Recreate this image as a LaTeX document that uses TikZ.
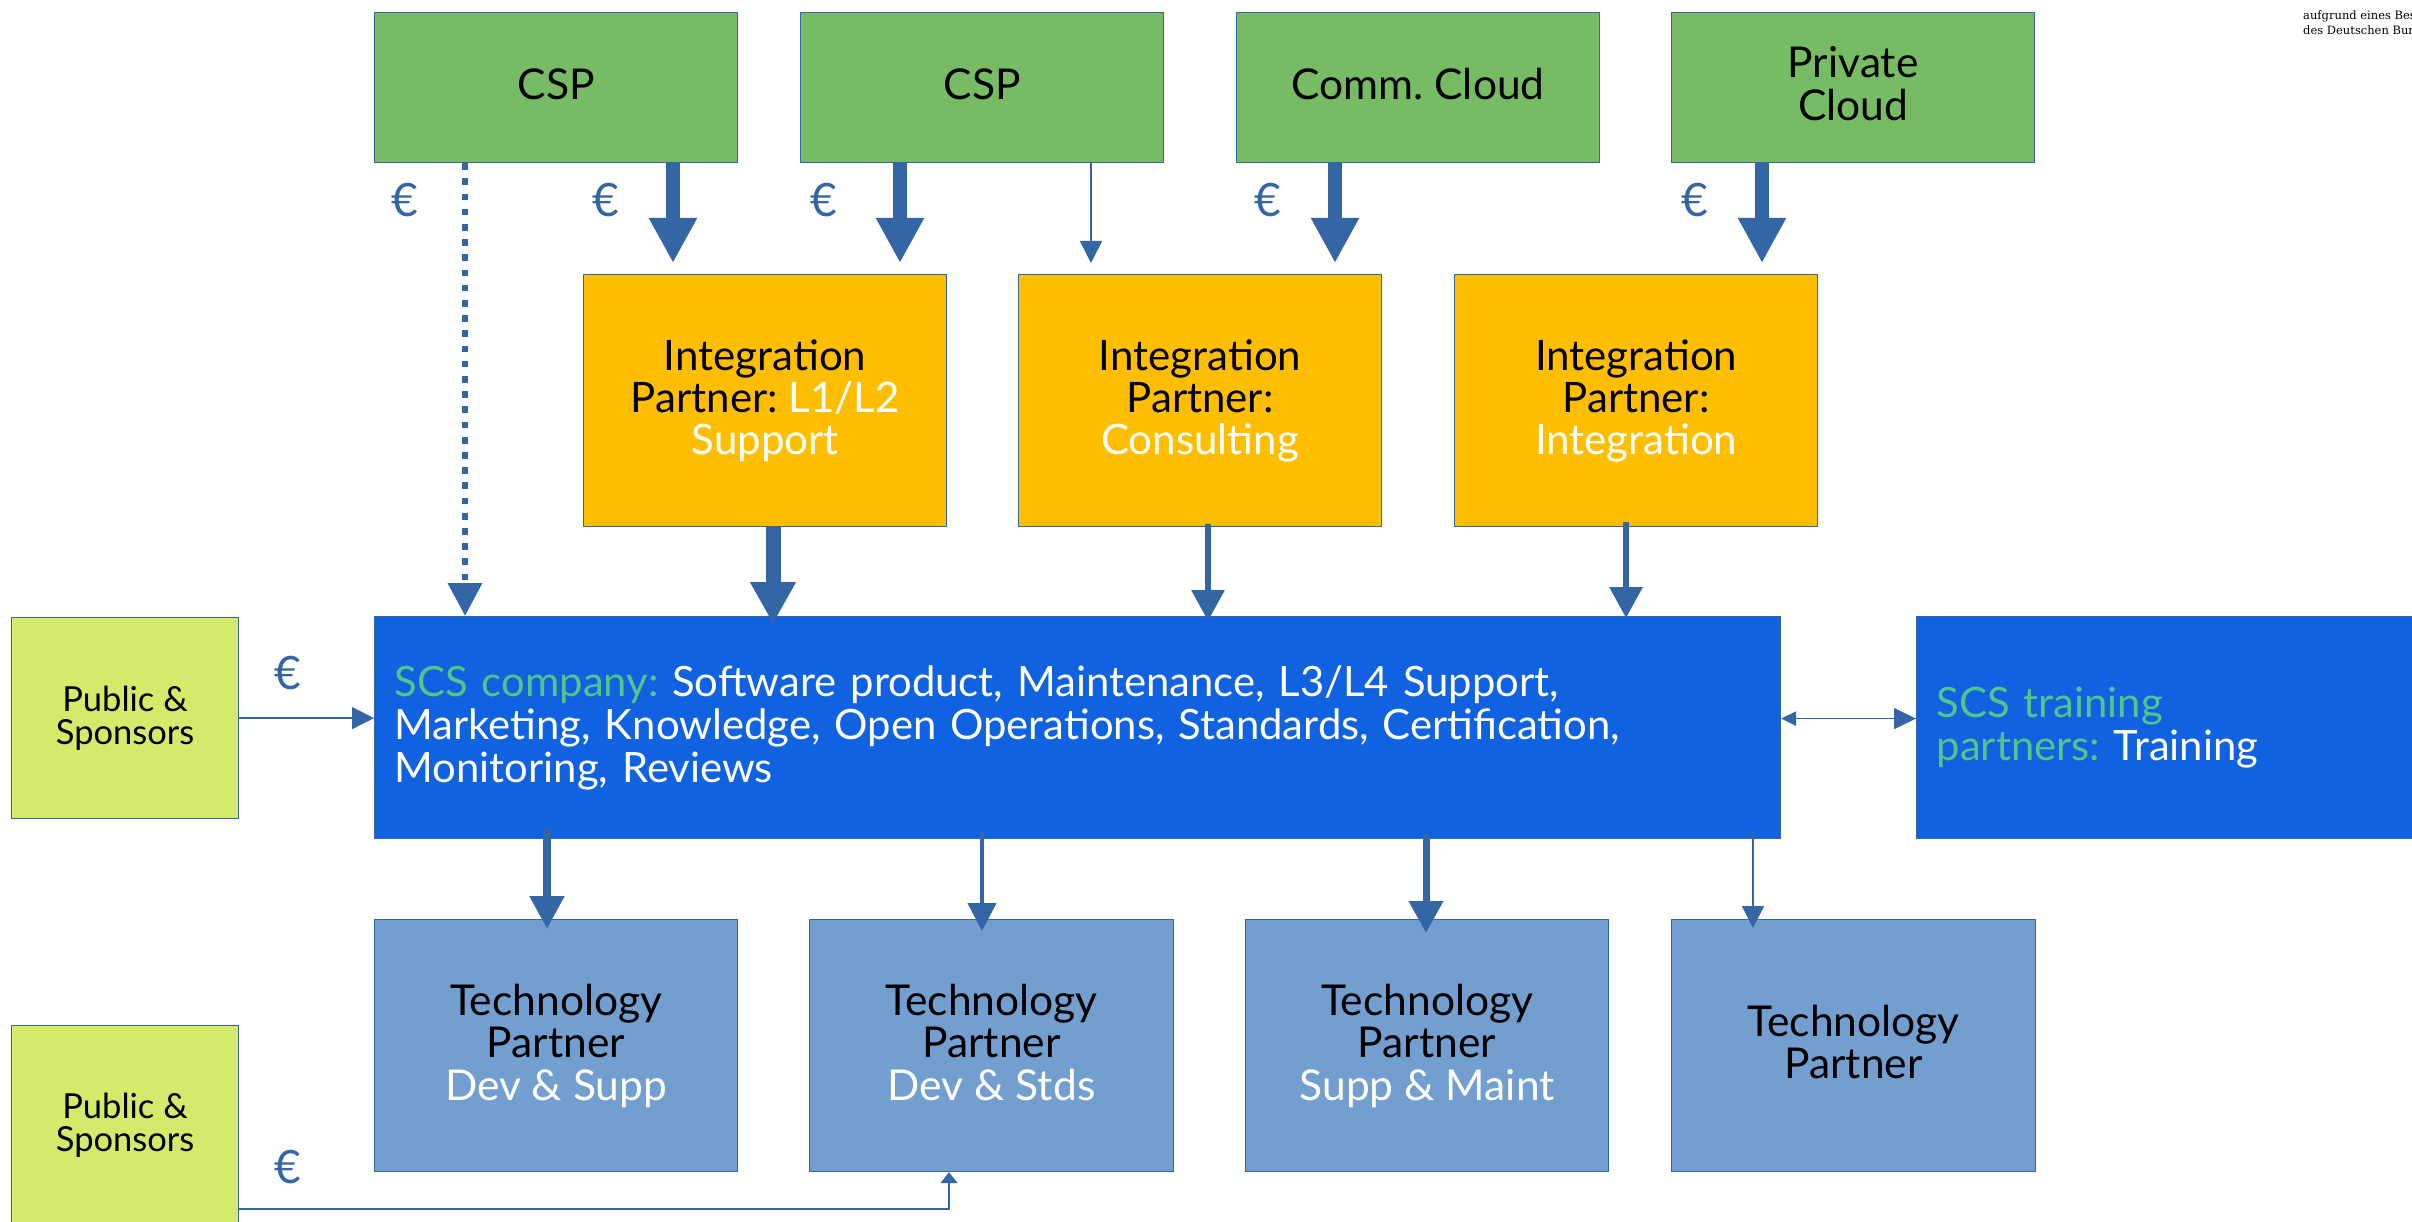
\documentclass[tikz,border=0pt]{standalone}
\usepackage{fontspec}
\setmainfont{Lato}
\newfontfamily\logofont{DejaVu Serif}
\usetikzlibrary{arrows.meta,calc}
\definecolor{cspgreen}{HTML}{77BC65}
\definecolor{ipgold}{HTML}{FFBF00}
\definecolor{scsblue}{HTML}{1062E0}
\definecolor{tpblue}{HTML}{729FCF}
\definecolor{publime}{HTML}{D4EA6B}
\definecolor{linkblue}{HTML}{3465A4}
\definecolor{tgreen}{RGB}{80,198,140}
\newcommand\lowstrut{\vphantom{p}}
\frenchspacing
\begin{document}
\frenchspacing
\begin{tikzpicture}[x=1pt,y=-1pt,
  box/.style={draw=linkblue, line width=1.2pt, anchor=north west, inner sep=0pt, align=center, text=black},
  cspbox/.style={box, fill=cspgreen, minimum width=363pt, minimum height=150pt, font=\fontsize{42.5}{43}\selectfont},
  ipbox/.style={box, fill=ipgold, minimum width=363pt, minimum height=252pt, font=\fontsize{42}{42}\selectfont},
  tpbox/.style={box, fill=tpblue, minimum width=363pt, minimum height=252pt, font=\fontsize{42.5}{42.5}\selectfont},
  pubbox/.style={box, fill=publime, minimum width=227pt, font=\fontsize{34.5}{33.5}\selectfont},
  scsbox/.style={box, fill=scsblue, minimum height=222pt, inner xsep=20pt, align=left, text=white, font=\fontsize{41.8}{43}\selectfont},
  euro/.style={text=linkblue, inner sep=0pt, font=\fontsize{46}{46}\selectfont},
  logotext/.style={anchor=base west, inner sep=0pt, text=black, font=\logofont\fontsize{11.5}{15}\selectfont},
  conn/.style={draw=linkblue, line cap=butt},
  bigarrow/.style={conn, line width=14pt, -{Triangle[length=45pt,width=45pt]}},
  upperarrow/.style={conn, line width=15pt, -{Triangle[length=42pt,width=43pt]}},
  midarrow/.style={conn, line width=6pt, -{Triangle[length=31pt,width=32pt]}},
  lowthick/.style={conn, line width=8pt, -{Triangle[length=33pt,width=33pt]}},
  lowmid/.style={conn, line width=4.5pt, -{Triangle[length=28pt,width=28pt]}},
  lowthree/.style={conn, line width=7pt, -{Triangle[length=32pt,width=33pt]}},
  thinarrow/.style={conn, line width=1.5pt, -{Triangle[length=22pt,width=22pt]}},
  dotarrow/.style={conn, line width=6.7pt, dash pattern=on 6.7pt off 8.5pt, -{Triangle[length=33pt,width=33pt]}}
]
\useasboundingbox (0,0) rectangle (2412,1222);
\fill[white] (0,0) rectangle (2412,1222);
\clip (0,0) rectangle (2412,1222);

% top row
\node[cspbox] (csp1) at (374,12) {CSP\lowstrut};
\node[cspbox] (csp2) at (800,12) {CSP\lowstrut};
\node[cspbox] (comm) at (1236,12) {Comm. Cloud\lowstrut};
\node[cspbox] (priv) at (1671,12) {Private\\Cloud\lowstrut};

% integration partners
\node[ipbox] (ip1) at (583,274) {Integration\\Partner: \textcolor{white}{L1/L2}\\\textcolor{white}{Support}};
\node[ipbox] (ip2) at (1018,274) {Integration\\Partner:\\\textcolor{white}{Consulting}};
\node[ipbox] (ip3) at (1454,274) {Integration\\Partner:\\\textcolor{white}{Integration}};

% SCS row
\node[scsbox, minimum width=1406pt, text width=1366pt] (scs) at (374,616)
  {\textcolor{tgreen}{SCS company:} Software product, Maintenance, L3/L4 Support,\\
   Marketing, Knowledge, Open Operations, Standards, Certification,\\
   Monitoring, Reviews};
\node[scsbox, minimum width=560pt, text width=520pt] (train) at (1916,616)
  {\textcolor{tgreen}{SCS training}\\\textcolor{tgreen}{partners:} Training};
\node[pubbox, minimum height=201pt] (pub1) at (11,617) {Public \&\\Sponsors};
\node[pubbox, minimum height=199pt] (pub2) at (11,1025) {Public \&\\Sponsors};

% technology partners
\node[tpbox] (tp1) at (374,919) {Technology\\Partner\\\textcolor{white}{Dev \& Supp}};
\node[tpbox, minimum width=364pt] (tp2) at (809,919) {Technology\\Partner\\\textcolor{white}{Dev \& Stds}\lowstrut};
\node[tpbox] (tp3) at (1245,919) {Technology\\Partner\\\textcolor{white}{Supp \& Maint}};
\node[tpbox, minimum width=364pt] (tp4) at (1671,919) {Technology\\Partner\lowstrut};

% logo text (cut at the page edge)
\node[logotext] (logo1) at (2303,20) {aufgrund eines Bes};
\node[logotext] (logo2) at (2303,35) {des Deutschen Bun};

% connectors top
\draw[dotarrow] ($(csp1.south west)+(91,0)$) -- ($(scs.north west)+(91,0)$);
\draw[bigarrow] ($(csp1.south west)+(299,0)$) -- ($(ip1.north west)+(90,-11)$);
\draw[bigarrow] ($(csp2.south west)+(100,0)$) -- ($(ip1.north west)+(317,-11)$);
\draw[thinarrow] ($(csp2.south west)+(291,0)$) -- ($(ip2.north west)+(73,-11)$);
\draw[bigarrow] ($(comm.south west)+(99,0)$) -- ($(ip2.north west)+(317,-11)$);
\draw[bigarrow] ($(priv.south west)+(91,0)$) -- ($(ip3.north west)+(308,-11)$);

% integration partners to SCS
\draw[upperarrow] ($(ip1.south west)+(190,0)$) -- ($(scs.north west)+(399,8)$);
\draw[midarrow] ($(ip2.south west)+(190,-3)$) -- ($(scs.north west)+(834,5)$);
\draw[midarrow] ($(ip3.south west)+(172,-5)$) -- ($(scs.north west)+(1252,2)$);

% SCS to technology partners
\draw[lowthick] ($(scs.south west)+(173,-10)$) -- ($(tp1.north west)+(173,10)$);
\draw[lowmid] ($(scs.south west)+(608,-7)$) -- ($(tp2.north west)+(173,12)$);
\draw[lowthree] ($(scs.south west)+(1052,-5)$) -- ($(tp3.north west)+(181,14)$);
\draw[thinarrow] ($(scs.south west)+(1379,-9)$) -- ($(tp4.north west)+(82,9)$);

% side connectors
\draw[thinarrow] (pub1.east) -- (pub1.east -| scs.west);
\draw[conn, line width=1.5pt, {Triangle[length=15pt,width=14.5pt]}-{Triangle[length=22pt,width=21pt]}]
  ($(scs.east)+(0,-9)$) -- ($(train.west)+(0,-9)$);
\draw[conn, line width=1.5pt, -{Triangle[length=11pt,width=17pt]}]
  ($(pub2.north east)+(0,184)$) -| ($(tp2.south west)+(140,0)$);

% euro signs
\node[euro] (e1) at (405,200) {€};
\node[euro] (e2) at (606,200) {€};
\node[euro] (e3) at (824,200) {€};
\node[euro] (e4) at (1268,200) {€};
\node[euro] (e5) at (1695,200) {€};
\node[euro] (e6) at (288,673) {€};
\node[euro] (e7) at (288,1167) {€};
\end{tikzpicture}
\end{document}
